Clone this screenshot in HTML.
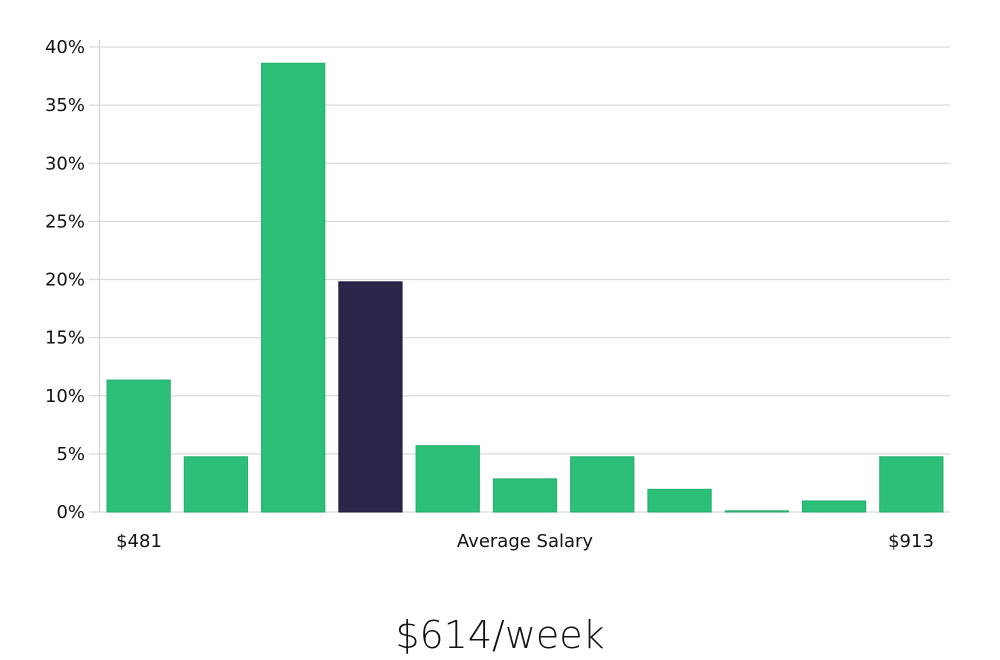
<!DOCTYPE html>
<html><head><meta charset="utf-8"><style>
html,body{margin:0;padding:0;background:#fff;width:1000px;height:660px;overflow:hidden}
svg text{font-family:"DejaVu Sans","Liberation Sans",sans-serif;fill:#111}
</style></head><body>
<svg id="chart" width="1000" height="660" xmlns="http://www.w3.org/2000/svg">
<g id="grid"></g><g id="bars"></g><g id="labels"></g>
<text x="139" y="547" font-size="18" text-anchor="middle">$481</text>
<text x="525" y="547" font-size="18" text-anchor="middle">Average Salary</text>
<text x="911" y="547" font-size="18" text-anchor="middle">$913</text>
<text x="500" y="648" font-size="38" text-anchor="middle" style="font-family:'DejaVu Sans','Liberation Sans',sans-serif;font-weight:300">$614/week</text>
</svg>
<script>
const values=[11.35,4.75,38.6,19.8,5.7,2.85,4.75,1.95,0.1,0.95,4.75];
const highlight=[false,false,false,true,false,false,false,false,false,false,false];
const ticks=[0,5,10,15,20,25,30,35,40];
const tickLabels=["0%","5%","10%","15%","20%","25%","30%","35%","40%"];
const NS="http://www.w3.org/2000/svg";
const x0=100,x1=950,y0=512,y1=47,ymax=40;
const y=v=>y0-(v/ymax)*(y0-y1);
const step=(x1-x0)/values.length;
const xb=i=>x0+i*step+7;
const grid=document.getElementById('grid'),bars=document.getElementById('bars');
function mk(t,a){const e=document.createElementNS(NS,t);for(const k in a)e.setAttribute(k,a[k]);return e;}
ticks.forEach((t,i)=>{
 const l=mk('line',{x1:89,x2:x1,y1:y(t),y2:y(t),stroke:'#dadada','stroke-width':1.2});
 
 
 grid.appendChild(l);
 const tx=mk('text',{x:85,y:y(t)+6,'font-size':18,'text-anchor':'end'});
 tx.textContent=tickLabels[i];
 
 
 grid.appendChild(tx);
});
const ax=mk('line',{x1:99.5,x2:99.5,y1:40,y2:y0,stroke:'#d0d0d0','stroke-width':1.2});


grid.appendChild(ax);
values.forEach((v,i)=>{
 const h=Math.max(y0-y(v),1);
 const r=mk('rect',{x:xb(i),y:y0-h,width:step-14,height:h,fill:highlight[i]?'#29264a':'#2bbf78',stroke:highlight[i]?'#1e1b3a':'#25ad6c','stroke-width':1});
 
 
 bars.appendChild(r);
});
</script>
</body></html>
